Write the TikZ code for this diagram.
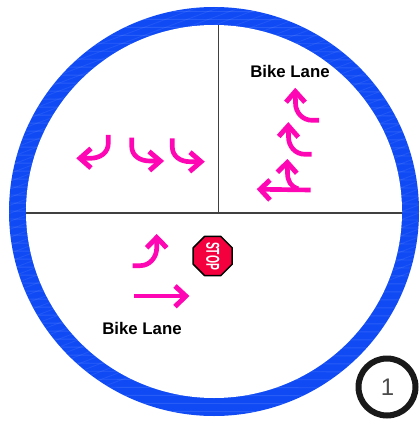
\documentclass[tikz,border=0pt]{standalone}
\usepackage{fontspec}
\setmainfont{Liberation Sans}
\definecolor{ringblue}{HTML}{0F4AF5}
\definecolor{arrowpink}{HTML}{FF06B5}
\definecolor{stopred}{HTML}{F5003F}
\tikzset{
  px/.style={x=0.75pt,y=-0.75pt},
  road/.style={draw=black!75,line width=1pt},
  shaft/.style={draw=arrowpink,line width=3.5pt},
  head/.style={draw=arrowpink,line width=3.7pt,miter limit=10,line join=miter},
  lanelabel/.style={font=\bfseries\fontsize{12.6pt}{14pt}\selectfont,text=black,inner sep=0pt},
}
\begin{document}
\begin{tikzpicture}[px]
\useasboundingbox (0,0) rectangle (419,424);
% ring
\fill[ringblue] (214,211.5) circle [x radius=205,y radius=204.5];
\begin{scope}
  \clip (214,211.5) circle [x radius=205,y radius=204.5];
  \foreach \yy in {3,11,...,420}{
    \draw[white,opacity=.10,line width=.7pt] (0,\yy) -- (419,\yy+1);
    \draw[white,opacity=.08,line width=.6pt] (0,\yy+6) -- (419,\yy-150);
  }
\end{scope}
\fill[white] (214,211.5) circle [x radius=188,y radius=186.5];
% roads
\coordinate (hl) at (26,213);
\coordinate (hr) at (402,213);
\coordinate (vt) at (218.5,25);
\coordinate (vb) at (218.5,213);
\draw[road] (hl) -- (hr);
\draw[road] (vt) -- (vb);
% top-left arrows
\draw[shaft] (108.3,135) -- (108.3,143) .. controls (108.3,153) and (100,158.3) .. (90,158.3) -- (82,158.3);
\draw[head] (91,148.5) -- (80,158.3) -- (91,168);
\draw[shaft] (131.7,137.7) -- (131.7,146) .. controls (131.7,156) and (140,161) .. (150,161) -- (158,161);
\draw[head] (149,151.5) -- (160.3,161) -- (149.5,170.5);
\draw[shaft] (172.3,138.3) -- (172.3,147) .. controls (172.3,156) and (180,161.7) .. (190,161.7) -- (198,161.7);
\draw[head] (190,152.2) -- (201,161.7) -- (189.6,171.5);
% top-right arrows
\draw[shaft] (319,120.3) -- (312,120.3) .. controls (303,120.3) and (295.5,113) .. (295.5,103) -- (295.3,94);
\draw[head] (286,102.2) -- (295.3,91.5) -- (305,102.2);
\draw[shaft] (311.7,154.3) -- (305,154.3) .. controls (295,154.3) and (288.5,146) .. (288.5,137) -- (288.3,128);
\draw[head] (278.7,136.5) -- (288.3,125.8) -- (298.3,137.2);
\draw[shaft] (298,188.8) .. controls (291,187) and (287.5,181) .. (287.5,173) -- (287.3,165);
\draw[head] (277.4,172.2) -- (287.3,162.5) -- (296.8,173.2);
\draw[shaft] (310.7,190) -- (262,189.3);
\draw[head] (270,180) -- (260.2,189.3) -- (270,200);
% bottom arrows
\draw[shaft] (132.7,265.7) -- (140,265.7) .. controls (150,265.7) and (156.7,257) .. (156.7,248) -- (156.7,240);
\draw[head] (146.7,247.8) -- (156.7,237.5) -- (166.7,247.8);
\draw[shaft] (134.3,296) -- (183,296);
\draw[head] (175,286) -- (185.8,296) -- (175,306.7);
% stop sign
\draw[fill=stopred,draw=black,line width=1.1pt,line join=round]
  (204.6,236.4) -- (220.8,236.4) -- (232.2,247.8) -- (232.2,264.2) -- (220.8,275.6) -- (204.6,275.6) -- (193.2,264.2) -- (193.2,247.8) -- cycle;
\node[rotate=-90,text=white,inner sep=0pt,font=\bfseries\fontsize{14pt}{15pt}\selectfont] (stoptext) at (212.7,256) {\scalebox{0.55}[1]{STOP}};
% labels
\node[lanelabel] (laneA) at (290,71) {Bike Lane};
\node[lanelabel] (laneB) at (142,328) {Bike Lane};
% number badge
\draw[black!90,fill=white,line width=4.5pt] (387,387) circle [radius=28.5];
\node[inner sep=0pt,text=black!70,font=\fontsize{18pt}{20pt}\selectfont] (num) at (387.5,387) {1};
\end{tikzpicture}
\end{document}
